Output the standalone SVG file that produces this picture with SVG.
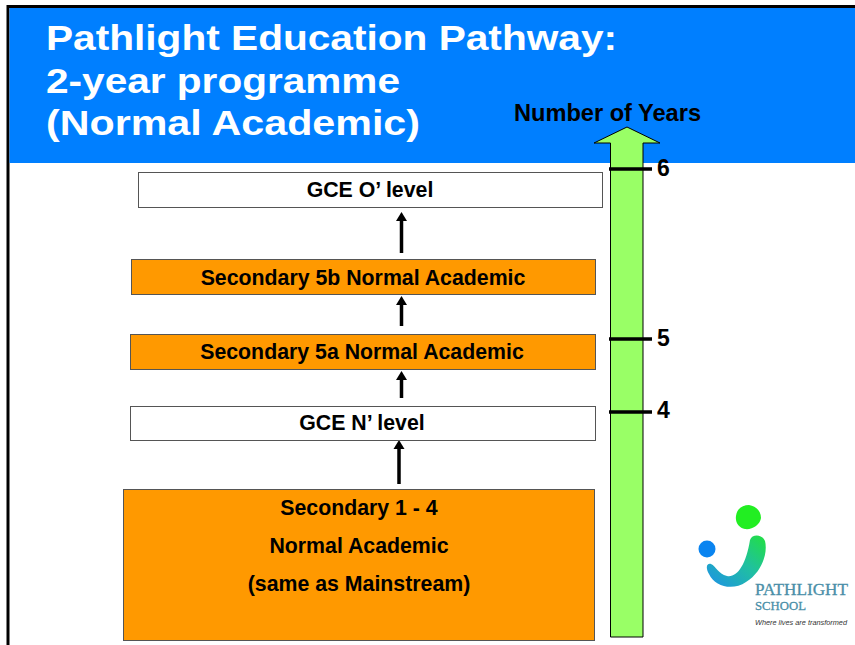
<svg xmlns="http://www.w3.org/2000/svg" width="855" height="645" viewBox="0 0 855 645">
<style>
text{font-family:"Liberation Sans",Arial,sans-serif;font-weight:bold;fill:#000}
.title{font-size:35.500px;fill:#fff}
.lab{font-size:21.300px;text-anchor:middle}
.num{font-size:23px}
.o{fill:#ff9900;stroke:#555;stroke-width:1}
.w{fill:#fff;stroke:#555;stroke-width:1}
.tick{stroke:#000;stroke-width:3.500;fill:none}
.c{stroke:#000;stroke-width:3.500;fill:none;marker-end:url(#ah)}
</style>
<defs>
<marker id="ah" markerUnits="userSpaceOnUse" markerWidth="10" markerHeight="12" refX="2" refY="5.500" orient="auto" viewBox="0 0 10 11"><path d="M0 0 9 5.500 0 11z" fill="#000"/></marker>
<linearGradient id="sw" x1="0" y1="1" x2="1" y2="0"><stop offset="0" stop-color="#1e90e8"/><stop offset=".55" stop-color="#20c0a0"/><stop offset="1" stop-color="#22e040"/></linearGradient>
</defs>
<rect width="855" height="645" fill="#fff"/>
<g id="frame"><rect x="8" y="6.500" width="860" height="660" fill="none" stroke="#000" stroke-width="3"/></g>
<g id="header"><rect x="9.500" y="8" width="846" height="155" fill="#007fff"/>
<text class="title" x="46" y="50" textLength="571" lengthAdjust="spacingAndGlyphs">Pathlight Education Pathway:</text>
<text class="title" x="46" y="93" textLength="354" lengthAdjust="spacingAndGlyphs">2-year programme</text>
<text class="title" x="46" y="135" textLength="374" lengthAdjust="spacingAndGlyphs">(Normal Academic)</text></g>
<g id="years-axis">
<path d="M610.500 637V143H594L627 127 660 143H643V637z" fill="#99ff66" stroke="#000" stroke-width="1"/>
<text x="607.500" y="121" text-anchor="middle" style="font-size:23.600px">Number of Years</text>
<path class="tick" d="M609 169H652M609 339H652M609 412H652"/>
<text class="num" x="657" y="176">6</text><text class="num" x="657" y="346">5</text><text class="num" x="657" y="418">4</text>
</g>
<g id="connectors">
<path class="c" d="M401.500 253V219"/><path class="c" d="M401.500 326V303"/><path class="c" d="M401.500 398V378"/><path class="c" d="M399 484V447"/>
</g>
<g id="gce-o"><rect class="w" x="138.500" y="172.500" width="464" height="35"/><text class="lab" x="370" y="197">GCE O’ level</text></g>
<g id="sec-5b"><rect class="o" x="131.500" y="259.500" width="464" height="35"/><text class="lab" x="363" y="285">Secondary 5b Normal Academic</text></g>
<g id="sec-5a"><rect class="o" x="130.500" y="334.500" width="465" height="35"/><text class="lab" x="362" y="359">Secondary 5a Normal Academic</text></g>
<g id="gce-n"><rect class="w" x="130.500" y="406.500" width="465" height="34"/><text class="lab" x="362" y="430">GCE N’ level</text></g>
<g id="sec-1-4"><rect class="o" x="123.500" y="489.500" width="471" height="151"/>
<text class="lab" x="359" y="515">Secondary 1 - 4</text><text class="lab" x="359" y="553">Normal Academic</text><text class="lab" x="359" y="591">(same as Mainstream)</text></g>
<g id="logo">
<path d="M736 516C737 508 743 505 749 505 756 506 761 511 761 518 760 525 752 530 745 529 739 528 735 523 736 516z" fill="#22ee22"/>
<circle cx="707" cy="549" r="8.500" fill="#0a84f0"/>
<path d="M750 540C752 534 762 534 765 541 768 553 762 572 746 582 733 591 715 587 709 574 705 567 707 563 711 564 716 566 718 574 727 576 737 578 746 565 750 540z" fill="url(#sw)"/>
<text x="755" y="595" textLength="93" lengthAdjust="spacingAndGlyphs" style="font-family:'Liberation Serif',serif;font-size:16.500px;fill:#4a8fa8;font-weight:normal;stroke:#4a8fa8;stroke-width:.3">PATHLIGHT</text>
<text x="755" y="610" textLength="51" lengthAdjust="spacingAndGlyphs" style="font-family:'Liberation Serif',serif;font-size:13px;fill:#4a8fa8;font-weight:normal;stroke:#4a8fa8;stroke-width:.3">SCHOOL</text>
<text x="755" y="625" textLength="92" lengthAdjust="spacingAndGlyphs" style="font-weight:normal;font-style:italic;font-size:7px;fill:#333">Where lives are transformed</text>
</g>
</svg>
